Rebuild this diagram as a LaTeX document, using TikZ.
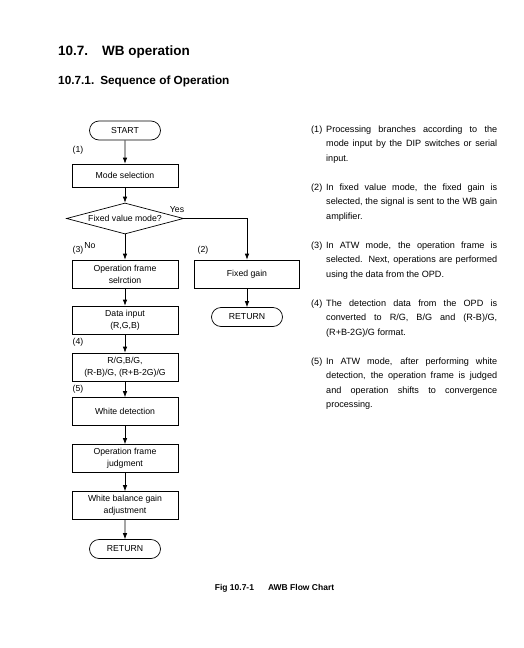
\documentclass[tikz,border=0pt]{standalone}
\usepackage{fontspec}
\setmainfont{Liberation Sans}
\usetikzlibrary{arrows.meta,shapes.geometric,shapes.misc,positioning}
\hyphenpenalty=10000
\exhyphenpenalty=10000

\tikzset{
  box/.style={draw, line width=0.7pt, minimum width=106pt, minimum height=28pt,
    align=center, inner sep=1pt, font=\fontsize{8.7}{12}\selectfont},
  term/.style={draw, line width=0.7pt, rounded rectangle, minimum width=73pt,
    minimum height=19pt, inner sep=1pt, font=\fontsize{8.7}{10}\selectfont},
  decision/.style={draw, line width=0.7pt, diamond, aspect=3.8, minimum width=117pt,
    minimum height=31pt, inner sep=0pt, font=\fontsize{8.7}{10}\selectfont},
  lbl/.style={inner sep=0pt, font=\fontsize{8.7}{10}\selectfont},
  flow/.style={line width=0.7pt, -{Latex[length=6pt,width=4.5pt]}},
  note/.style={anchor=north west, inner sep=0pt, text width=171pt, align=justify,
    font=\fontsize{9.1}{14.5}\selectfont},
  notenum/.style={anchor=north west, inner sep=0pt, font=\fontsize{9.1}{14.5}\selectfont}
}

\begin{document}
\begin{tikzpicture}[x=1pt,y=-1pt]
    \useasboundingbox (0,0) rectangle (523,648);

    % Ueberschriften
    \node[anchor=west, inner sep=0pt, font=\fontsize{13.5}{15}\selectfont\bfseries] (title) at (58,52)
      {10.7.\hspace{14pt}WB operation};
    \node[anchor=west, inner sep=0pt, font=\fontsize{11.8}{13}\selectfont\bfseries] (subtitle) at (58,81)
      {10.7.1.\hspace{6pt}Sequence of Operation};

    % Knoten der linken Spalte
    \node[term] (start) at (125,130.5) {START};
    \node[box, minimum height=23pt] (mode) at (125,175.5) {Mode selection};
    \node[decision] (fixed) at (125,218.5) {Fixed value mode?};
    \node[box] (opsel) at (125,274) {Operation frame\\selrction};
    \node[box] (data) at (125,320) {Data input\\(R,G,B)};
    \node[box] (ratio) at (125,367) {R/G,B/G,\\(R-B)/G, (R+B-2G)/G};
    \node[box] (white) at (125,411.5) {White detection};
    \node[box] (judge) at (125,458.5) {Operation frame\\judgment};
    \node[box] (wbgain) at (125,505.5) {White balance gain\\adjustment};
    \node[term] (ret) at (125,549) {RETURN};

    % Knoten des Festwert-Zweigs
    \node[box, minimum width=105pt] (fixgain) at (247,274) {Fixed gain};
    \node[term] (fixret) at (247,317) {RETURN};

    % Nummern und Beschriftungen
    \node[lbl] (l1) at (78,150) {(1)};
    \node[lbl] (l3) at (78,250) {(3)};
    \node[lbl] (l2) at (203,250) {(2)};
    \node[lbl] (l4) at (78,342) {(4)};
    \node[lbl] (l5) at (78,389) {(5)};
    \node[lbl] (yes) at (177,210) {Yes};
    \node[lbl] (no) at (90,246) {No};

    % Verbindungen
    \draw[flow] (start) -- (mode);
    \draw[flow] (mode) -- (fixed);
    \draw[flow] (fixed) -- (opsel);
    \draw[flow] (fixed.east) -| (fixgain.north);
    \draw[flow] (fixgain) -- (fixret);
    \draw[flow] (opsel) -- (data);
    \draw[flow] (data) -- (ratio);
    \draw[flow] (ratio) -- (white);
    \draw[flow] (white) -- (judge);
    \draw[flow] (judge) -- (wbgain);
    \draw[flow] (wbgain) -- (ret);

    % Erlaeuterungen rechts
    \node[notenum] (k1) at (311,125.5) {(1)};
    \node[note] (n1) at (326,125.5)
      {Processing branches according to the mode input by the DIP switches or serial input.};
    \node[notenum] (k2) at (311,183.5) {(2)};
    \node[note] (n2) at (326,183.5)
      {In fixed value mode, the fixed gain is selected, the signal is sent to the WB gain amplifier.};
    \node[notenum] (k3) at (311,241.5) {(3)};
    \node[note] (n3) at (326,241.5)
      {In ATW mode, the operation frame is selected. Next, operations are performed using the data from the OPD.};
    \node[notenum] (k4) at (311,299.5) {(4)};
    \node[note] (n4) at (326,299.5)
      {The detection data from the OPD is converted to R/G, B/G and (R-B)/G, (R+B-2G)/G format.};
    \node[notenum] (k5) at (311,357.5) {(5)};
    \node[note] (n5) at (326,357.5)
      {In ATW mode, after performing white detection, the operation frame is judged and operation shifts to convergence processing.};

    % Bildunterschrift
    \node[inner sep=0pt, font=\fontsize{8.5}{10}\selectfont\bfseries] (caption) at (274.5,588)
      {Fig 10.7-1\hspace{14pt}AWB Flow Chart};
  \end{tikzpicture}
\end{document}
